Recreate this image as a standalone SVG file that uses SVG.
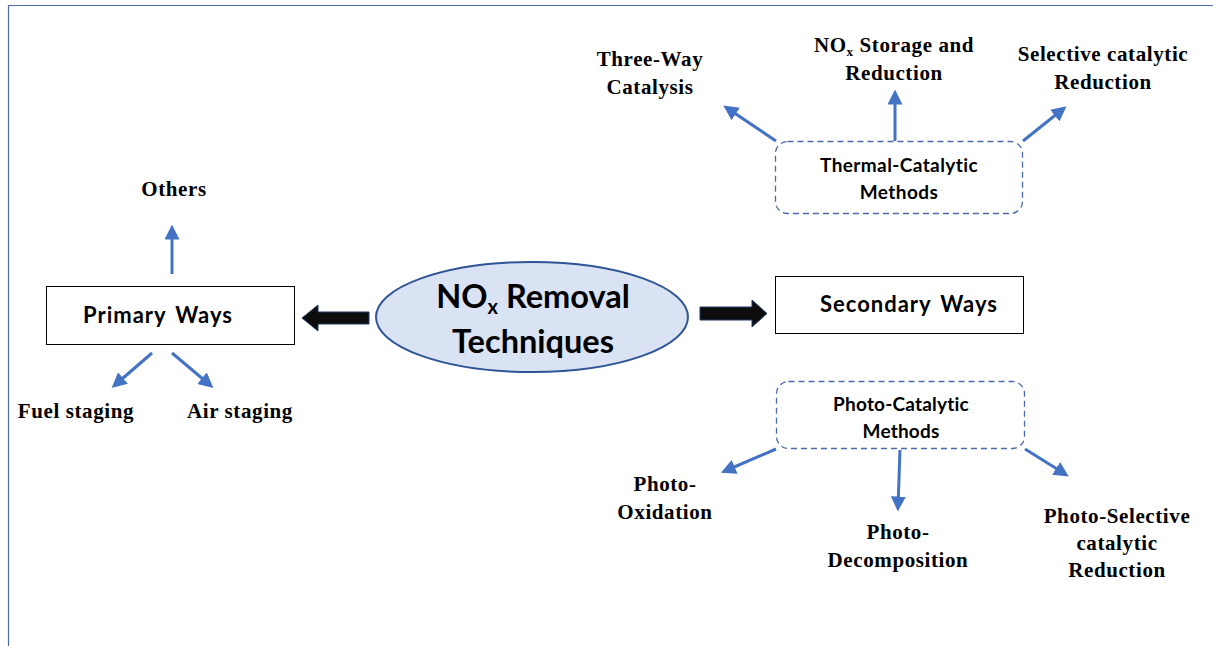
<svg xmlns="http://www.w3.org/2000/svg" width="1213" height="646" viewBox="0 0 1213 646">
<defs>
<style>
.lbl{font-family:"Liberation Serif","Times New Roman",serif;font-weight:bold;font-size:21px;letter-spacing:0.6px;fill:#000;text-anchor:middle}
.box{font-family:Lato,"Open Sans",sans-serif;font-weight:bold;fill:#000;text-anchor:middle}
.conn{stroke:#4472c4;stroke-width:3;fill:none;marker-end:url(#ah)}
.dash{fill:#fff;stroke:#4a6aa8;stroke-width:1.3;stroke-dasharray:6 4}
.solid{fill:#fff;stroke:#000;stroke-width:1}
</style>
<marker id="ah" markerWidth="5" markerHeight="5" refX="3.5" refY="2.5" orient="auto" markerUnits="strokeWidth">
<path d="M0,0 L5,2.5 L0,5 Z" fill="#4472c4"/>
</marker>
</defs>
<rect width="1213" height="646" fill="#fff"/>
<path d="M8.5,646 V5.5 H1213" fill="none" stroke="#4a6aa8" stroke-width="1.2"/>

<g id="center">
<ellipse cx="532" cy="317" rx="156" ry="55" fill="#dae3f3" stroke="#2f5597" stroke-width="2"/>
<text x="533" y="308" font-family="Lato,'Open Sans',sans-serif" font-weight="bold" font-size="32.5" text-anchor="middle">NO<tspan font-size="20" dy="6">x</tspan><tspan dy="-6"> Removal</tspan></text>
<text x="533" y="353" font-family="Lato,'Open Sans',sans-serif" font-weight="bold" font-size="32.5" text-anchor="middle">Techniques</text>
</g>

<g id="primary">
<rect class="solid" x="46.5" y="286.5" width="248" height="58"/>
<text class="box" x="158" y="323" font-size="22" letter-spacing="1" word-spacing="3">Primary Ways</text>
</g>

<g id="secondary">
<rect class="solid" x="775.5" y="276.5" width="248" height="57"/>
<text class="box" x="909" y="312" font-size="22" letter-spacing="1" word-spacing="3">Secondary Ways</text>
</g>

<g id="thermal">
<rect class="dash" x="775.5" y="141.5" width="247" height="72" rx="12"/>
<text class="box" x="899" y="172" font-size="19" letter-spacing="0.4">Thermal-Catalytic</text>
<text class="box" x="899" y="199" font-size="19" letter-spacing="0.4">Methods</text>
</g>

<g id="photo">
<rect class="dash" x="776.5" y="381.5" width="248" height="67" rx="12"/>
<text class="box" x="901" y="411" font-size="19" letter-spacing="0.2">Photo-Catalytic</text>
<text class="box" x="901" y="438" font-size="19" letter-spacing="0.2">Methods</text>
</g>

<g id="others"><text class="lbl" x="174" y="196">Others</text></g>
<g id="fuel"><text class="lbl" x="76" y="418">Fuel staging</text></g>
<g id="air"><text class="lbl" x="240" y="418">Air staging</text></g>
<g id="threeway"><text class="lbl" x="650" y="66">Three-Way</text><text class="lbl" x="650" y="94">Catalysis</text></g>
<g id="nsr"><text class="lbl" x="894" y="52">NO<tspan font-size="13" dy="4">x</tspan><tspan dy="-4"> Storage and</tspan></text><text class="lbl" x="894" y="80">Reduction</text></g>
<g id="scr"><text class="lbl" x="1103" y="61">Selective catalytic</text><text class="lbl" x="1103" y="89">Reduction</text></g>
<g id="photoox"><text class="lbl" x="665" y="491">Photo-</text><text class="lbl" x="665" y="519">Oxidation</text></g>
<g id="photodec"><text class="lbl" x="898" y="539">Photo-</text><text class="lbl" x="898" y="567">Decomposition</text></g>
<g id="photoscr"><text class="lbl" x="1117" y="523">Photo-Selective</text><text class="lbl" x="1117" y="550">catalytic</text><text class="lbl" x="1117" y="577">Reduction</text></g>

<g id="connectors">
<path d="M369,312 H318 V305 L302,318 L318,331 V324 H369 Z" fill="#0d0d0d" stroke="#1f3864" stroke-width="1"/>
<path d="M700,307 H752 V300 L767,313.5 L752,327 V320 H700 Z" fill="#0d0d0d" stroke="#1f3864" stroke-width="1"/>
<line class="conn" x1="172" y1="274" x2="172" y2="229"/>
<line class="conn" x1="152" y1="353" x2="115" y2="385"/>
<line class="conn" x1="172" y1="353" x2="210" y2="385"/>
<line class="conn" x1="776" y1="141" x2="727" y2="108"/>
<line class="conn" x1="895" y1="141" x2="895" y2="94"/>
<line class="conn" x1="1023" y1="141" x2="1063" y2="109"/>
<line class="conn" x1="776" y1="449" x2="725" y2="471"/>
<line class="conn" x1="900" y1="450" x2="898" y2="507"/>
<line class="conn" x1="1025" y1="449" x2="1065" y2="474"/>
</g>
</svg>
